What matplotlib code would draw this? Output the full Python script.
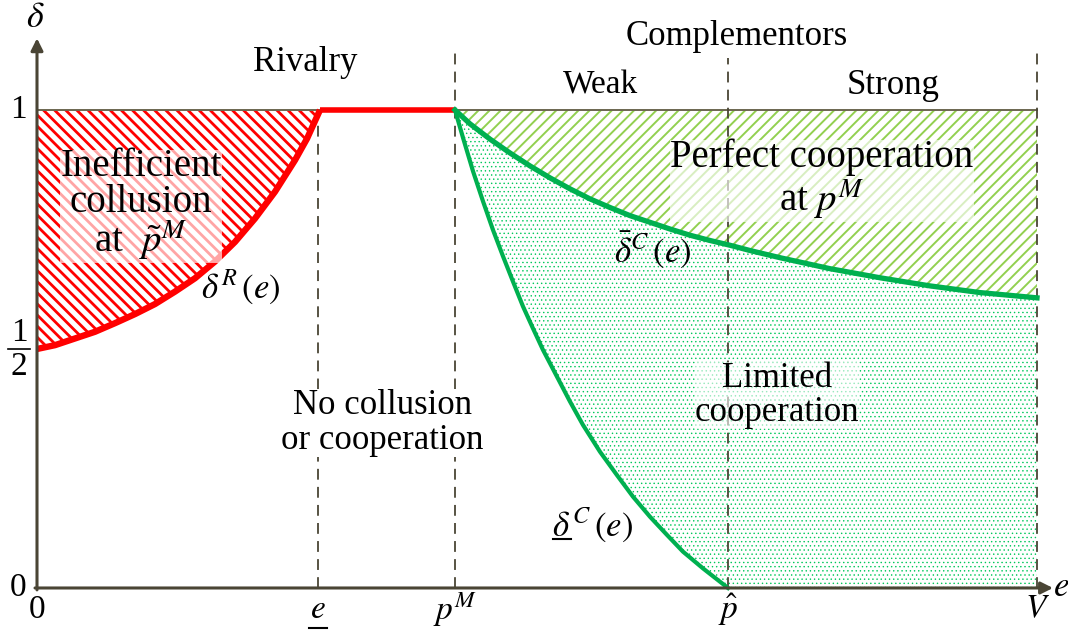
import matplotlib
matplotlib.use("Agg")
import matplotlib.pyplot as plt

plt.rcParams.update({
    "font.family": "Liberation Serif",
    "mathtext.fontset": "stix",
    "font.size": 25,
})

# --- colours ---
RED = "#ff0000"
GREEN = "#00b050"
LIGHT_GREEN = "#92d050"
DOTS = "#00c85a"
AXIS = "#4a4535"

# --- key points on the e axis (V normalised to 1) ---
E_LOW = 0.281
P_M = 0.418
P_HAT = 0.691
V = 1.0

# delta^R(e): rivalry threshold, then flat at 1 up to p^M
rival_e = [0.0, 0.018, 0.038, 0.058, 0.078, 0.098, 0.118, 0.138, 0.158, 0.178,
           0.198, 0.218, 0.238, 0.258, 0.270, 0.283]
rival_d = [0.5, 0.508, 0.522, 0.536, 0.554, 0.573, 0.594, 0.620, 0.648, 0.683,
           0.724, 0.773, 0.829, 0.895, 0.940, 1.0]
flat_e = [0.283, P_M]
flat_d = [1.0, 1.0]

# upper complementor threshold (bar delta^C)
upper_e = [0.418, 0.433, 0.453, 0.473, 0.493, 0.513, 0.533, 0.553, 0.573, 0.593, 0.613,
           0.633, 0.653, 0.673, 0.693, 0.713, 0.743, 0.793, 0.843, 0.893, 0.943, 1.0]
upper_d = [1.0, 0.971, 0.939, 0.910, 0.883, 0.858, 0.835, 0.814, 0.796, 0.779, 0.765,
           0.751, 0.738, 0.727, 0.717, 0.706, 0.691, 0.668, 0.649, 0.632, 0.618, 0.607]

# lower complementor threshold (underline delta^C)
lower_e = [0.418, 0.426, 0.436, 0.446, 0.456, 0.466, 0.476, 0.486, 0.496, 0.506, 0.520,
           0.533, 0.546, 0.563, 0.580, 0.596, 0.613, 0.630, 0.646, 0.666, 0.691]
lower_d = [1.0, 0.942, 0.872, 0.809, 0.749, 0.694, 0.641, 0.589, 0.543, 0.498, 0.442,
           0.390, 0.341, 0.285, 0.236, 0.191, 0.149, 0.111, 0.076, 0.041, 0.0]

fig = plt.figure(figsize=(10.68, 6.30), dpi=100)
ax = fig.add_axes([0, 0, 1, 1])
ax.set_xlim(-0.037, 1.031)
ax.set_ylim(-0.0879, 1.2301)
ax.axis("off")

# ---- shaded regions ----
with plt.rc_context({"hatch.linewidth": 2.0}):
    ax.fill_between(rival_e, rival_d, 1, facecolor="white",
                    edgecolor=RED, hatch="\\\\\\", linewidth=0, zorder=1)
with plt.rc_context({"hatch.linewidth": 1.4}):
    ax.fill_between(upper_e, upper_d, 1, facecolor="white",
                    edgecolor=LIGHT_GREEN, hatch="///", linewidth=0, zorder=1)
with plt.rc_context({"hatch.linewidth": 0.5}):
    ax.fill(upper_e + [V] + lower_e[::-1], upper_d + [0] + lower_d[::-1],
            facecolor="white", edgecolor=DOTS, hatch="....", linewidth=0, zorder=1)

# ---- guides ----
ax.plot([0, V], [1, 1], color="#6b6650", lw=1.4, zorder=2)
dash = dict(color=AXIS, lw=1.3, ls=(0, (6, 4)), zorder=2)
ax.plot([E_LOW, E_LOW], [0, 1], **dash)
ax.plot([P_M, P_M], [0, 1.121], **dash)
ax.plot([P_HAT, P_HAT], [0, 1.108], **dash)
ax.plot([V, V], [0, 1.13], **dash)

# ---- axes with arrows ----
arrow = dict(arrowstyle="-|>", color=AXIS, lw=2.2, mutation_scale=18, shrinkA=0, shrinkB=0)
ax.annotate("", xy=(0, 1.15), xytext=(0, -0.004), arrowprops=arrow, zorder=5)
ax.annotate("", xy=(1.016, 0), xytext=(-0.002, 0), arrowprops=arrow, zorder=5)

# ---- curves ----
ax.plot(rival_e, rival_d, color=RED, lw=4.6, solid_joinstyle="round", solid_capstyle="butt", zorder=4)
ax.plot(flat_e, flat_d, color=RED, lw=4.0, solid_capstyle="butt", zorder=4)
ax.plot(upper_e, upper_d, color=GREEN, lw=3.8, solid_joinstyle="round", zorder=4)
ax.plot(lower_e, lower_d, color=GREEN, lw=3.0, solid_joinstyle="round", zorder=4)

# ---- region labels ----
soft = dict(facecolor="white", edgecolor="none", alpha=0.65, pad=0.1)
ax.text(0.104, 0.80, "Inefficient\ncollusion\nat  $\\tilde{p}^M$", ha="center", va="center",
        fontsize=28, linespacing=0.95, bbox=soft, zorder=6)
ax.text(0.785, 0.853, "Perfect cooperation\nat $p^M$", ha="center", va="center",
        fontsize=28, linespacing=1.05, bbox=soft, zorder=6)
ax.text(0.345, 0.345, "No collusion\nor cooperation", ha="center", va="center",
        fontsize=25, linespacing=1.05,
        bbox=dict(facecolor="white", edgecolor="none", pad=0.2), zorder=6)
ax.text(0.740, 0.402, "Limited\ncooperation", ha="center", va="center",
        fontsize=25, linespacing=1.05,
        bbox=dict(facecolor="white", edgecolor="none", alpha=0.6, pad=0.1), zorder=6)

ax.text(0.268, 1.100, "Rivalry", ha="center", va="center", fontsize=25)
ax.text(0.700, 1.153, "Complementors", ha="center", va="center", fontsize=25)
ax.text(0.563, 1.052, "Weak", ha="center", va="center", fontsize=24)
ax.text(0.856, 1.052, "Strong", ha="center", va="center", fontsize=25)

# ---- curve labels ----
ax.text(0.204, 0.630, "$\\delta^R\\,(e)$", ha="center", va="center", fontsize=25, zorder=6)
ax.text(0.616, 0.707, "$\\bar{\\delta}^C\\,(e)$", ha="center", va="center", fontsize=25, zorder=6)
ax.text(0.555, 0.132, "$\\delta^C\\,(e)$", ha="center", va="center", fontsize=25, zorder=6)
ax.plot([0.516, 0.534], [0.1025, 0.1025], color="black", lw=1.5, zorder=6)

# ---- axis labels ----
ax.text(-0.002, 1.192, "$\\delta$", ha="center", va="center", fontsize=26)
ax.text(1.024, 0.0, "$e$", ha="center", va="center", fontsize=25)
ax.text(-0.019, 1.0, "1", ha="center", va="center", fontsize=24)
ax.text(-0.019, 0.0, "0", ha="center", va="center", fontsize=24)
ax.text(-0.018, 0.533, "1", ha="center", va="center", fontsize=24)
ax.text(-0.018, 0.463, "2", ha="center", va="center", fontsize=24)
ax.plot([-0.029, -0.007], [0.500, 0.500], color="black", lw=1.2)

tick_pos = [0.0, E_LOW, P_M, P_HAT, V]
tick_txt = ["0", "$e$", "$p^M$", "$\\hat{p}$", "$V$"]
for xp, lab in zip(tick_pos, tick_txt):
    ax.text(xp, -0.045, lab, ha="center", va="center", fontsize=24)
ax.plot([E_LOW - 0.009, E_LOW + 0.009], [-0.084, -0.084], color="black", lw=1.5)

fig.savefig("out.png", dpi=100)
